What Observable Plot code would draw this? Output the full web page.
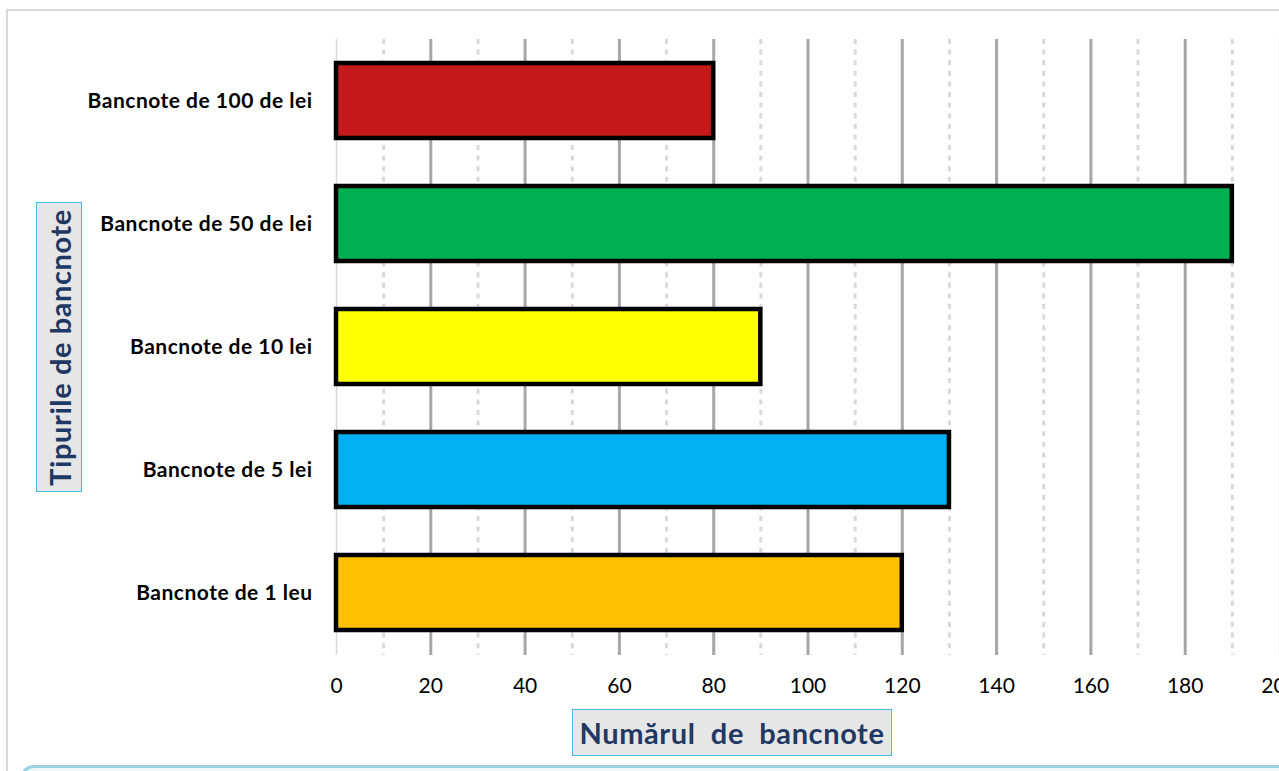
<!DOCTYPE html>
<html>
<head>
<meta charset="utf-8">
<script src="https://cdn.jsdelivr.net/npm/d3@7"></script>
<script src="https://cdn.jsdelivr.net/npm/@observablehq/plot@0.6"></script>
<style>
  html, body { margin: 0; padding: 0; background: #fff; }
  #wrap { position: relative; width: 1279px; height: 771px; overflow: hidden; font-family: Lato, "Open Sans", sans-serif; }
  #frame { position: absolute; left: 6px; top: 9px; width: 1400px; height: 900px; border: 2px solid #d9d9d9; box-sizing: border-box; }
  #chart { position: absolute; left: 0; top: 0; }
  .ttl { position: absolute; background: #e7e6e6; border: 1.5px solid #4cb8e8; box-sizing: border-box; color: #1f3864; font-weight: bold; display: flex; align-items: center; justify-content: center; white-space: pre; font-size: 29px; letter-spacing: 0.6px; }
  #ytitle { left: 36px; top: 202px; width: 46px; height: 290px; }
  #ytitle span { transform: rotate(-90deg); display: inline-block; }
  #xtitle { left: 572px; top: 709px; width: 320px; height: 47px; }
  #bottombox { position: absolute; left: 20px; top: 765px; width: 1300px; height: 60px; border: 3px solid #9ad2df; border-radius: 14px; background: #eef7fa; box-sizing: border-box; }
</style>
</head>
<body>
<div id="wrap">
  <div id="frame"></div>
  <div id="chart"></div>
  <div class="ttl" id="ytitle"><span>Tipurile de bancnote</span></div>
  <div class="ttl" id="xtitle">Numărul  de  bancnote</div>
  <div id="bottombox"></div>
</div>
<script>
const categories = ["Bancnote de 100 de lei", "Bancnote de 50 de lei", "Bancnote de 10 lei", "Bancnote de 5 lei", "Bancnote de 1 leu"];
const counts = [80, 190, 90, 130, 120];
const barColors = ["#c5191b", "#00b050", "#ffff00", "#00b0f0", "#ffc000"];
const xTicks = [0, 20, 40, 60, 80, 100, 120, 140, 160, 180, 200];
const majorGrid = [20, 40, 60, 80, 100, 120, 140, 160, 180];
const minorGrid = [10, 30, 50, 70, 90, 110, 130, 150, 170, 190];
const edgeGrid = [0, 200];

const rows = categories.map((name, i) => ({name, value: counts[i]}));

const chart = Plot.plot({
  width: 1279,
  height: 771,
  marginLeft: 336,
  marginRight: 0,
  marginTop: 39,
  marginBottom: 116,
  style: {fontFamily: "Lato, 'Open Sans', sans-serif", background: "transparent", overflow: "visible"},
  x: {domain: [0, 200], ticks: xTicks, tickSize: 0, tickPadding: 23, label: null},
  y: {domain: categories, paddingInner: 0.39, paddingOuter: 0.195, tickSize: 0, tickPadding: 24, label: null},
  color: {domain: categories, range: barColors},
  marks: [
    Plot.ruleX(minorGrid, {stroke: "#d9d9d9", strokeWidth: 3, strokeDasharray: "5,5.6"}),
    Plot.ruleX(majorGrid, {stroke: "#a6a6a6", strokeWidth: 3}),
    Plot.ruleX(edgeGrid, {stroke: "#d9d9d9", strokeWidth: 1.5}),
    Plot.barX(rows, {x: "value", y: "name", fill: "name", stroke: "#000", strokeWidth: 4.5})
  ]
});
document.getElementById("chart").appendChild(chart);

chart.querySelectorAll('[aria-label^="x-axis"]').forEach(g => {
  g.style.fontSize = "21px";
  g.setAttribute("fill", "#000");
});
chart.querySelectorAll('[aria-label^="y-axis"]').forEach(g => {
  g.style.fontSize = "21px";
  g.style.letterSpacing = "0.5px";
  g.style.fontWeight = "bold";
  g.setAttribute("fill", "#000");
});
</script>
</body>
</html>
